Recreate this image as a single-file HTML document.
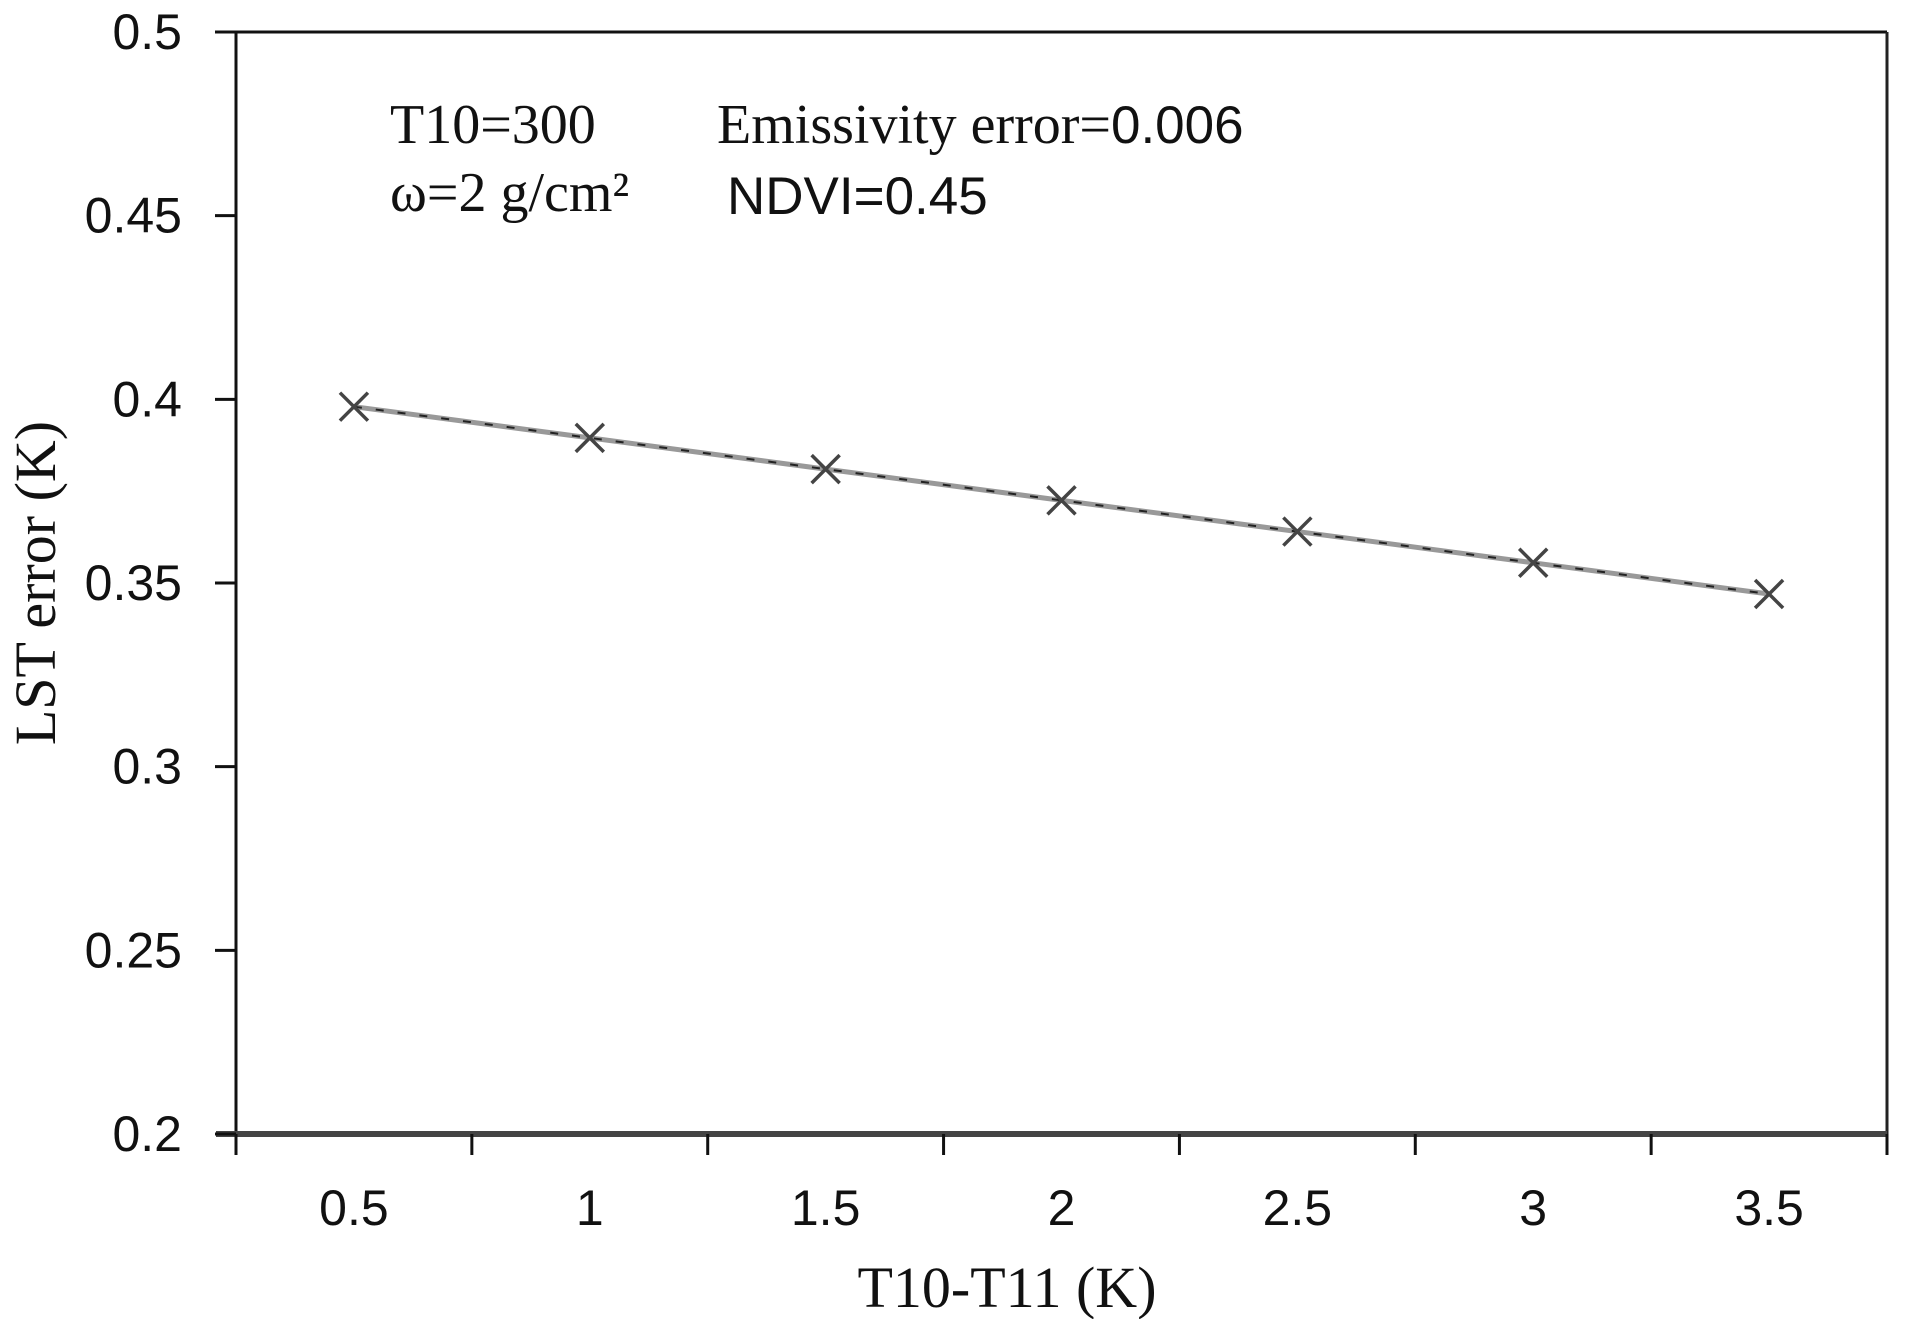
<!DOCTYPE html>
<html><head><meta charset="utf-8"><style>
html,body{margin:0;padding:0;background:#fff;}
svg{display:block;}
.tick{font-family:"Liberation Sans",sans-serif;font-size:50px;fill:#111;}
.serif{font-family:"Liberation Serif",serif;fill:#111;}
</style></head><body>
<svg id="chart" width="1921" height="1319" viewBox="0 0 1921 1319" xmlns="http://www.w3.org/2000/svg">
<rect x="0" y="0" width="1921" height="1319" fill="#fff"/>
<g id="axes"></g>
<g id="series"></g>
<text class="serif" x="390" y="143" font-size="56">T10=300</text>
<text class="serif" x="717" y="143" font-size="56">Emissivity error=<tspan font-family="Liberation Sans, sans-serif" font-size="53">0.006</tspan></text>
<text class="serif" x="390" y="211" font-size="56">ω=2 g/cm²</text>
<text x="727" y="214" font-family="Liberation Sans, sans-serif" font-size="53" fill="#111">NDVI=0.45</text>
<text class="serif" x="1007" y="1307" font-size="58" text-anchor="middle">T10-T11 (K)</text>
<text class="serif" x="0" y="0" font-size="58" text-anchor="middle" transform="translate(55,583) rotate(-90)">LST error (K)</text>
</svg>
<script>
const categories = ["0.5","1","1.5","2","2.5","3","3.5"];
const lstError = [0.398, 0.3895, 0.381, 0.3725, 0.364, 0.3555, 0.347];
const yTicks = [0.2, 0.25, 0.3, 0.35, 0.4, 0.45, 0.5];
const yTickLabels = ["0.2","0.25","0.3","0.35","0.4","0.45","0.5"];

const L=236,R=1887,T=32,B=1134,YMIN=0.2,YMAX=0.5;
const NS="http://www.w3.org/2000/svg";
function yScale(v){return B-(v-YMIN)/(YMAX-YMIN)*(B-T);}
const band=(R-L)/categories.length;
function xScale(i){return L+band*(i+0.5);}
function mk(tag,attrs,parent){const e=document.createElementNS(NS,tag);for(const k in attrs)e.setAttribute(k,attrs[k]);parent.appendChild(e);return e;}
const axes=document.getElementById('axes'), series=document.getElementById('series');

let e=mk('line',{x1:L,y1:T,x2:R,y2:T,stroke:'#111','stroke-width':3},axes);


e=mk('line',{x1:R,y1:T,x2:R,y2:B+20,stroke:'#222','stroke-width':3},axes);


e=mk('line',{x1:L,y1:T,x2:L,y2:B+20,stroke:'#111','stroke-width':3},axes);


e=mk('line',{x1:L-20,y1:B,x2:R,y2:B,stroke:'#444','stroke-width':6},axes);



yTicks.forEach((v,i)=>{
  const y=yScale(v);
  const t=mk('line',{x1:L-21,y1:y,x2:L,y2:y,stroke:'#111','stroke-width':3},axes);
  
  
  const tx=mk('text',{x:182,y:y+17,'text-anchor':'end',class:'tick'},axes);
  tx.textContent=yTickLabels[i];
  
  
});
for(let i=0;i<=categories.length;i++){
  const x=L+band*i;
  const t=mk('line',{x1:x,y1:B,x2:x,y2:B+21,stroke:'#111','stroke-width':3},axes);
  
  
}
categories.forEach((c,i)=>{
  const tx=mk('text',{x:xScale(i),y:1225,'text-anchor':'middle',class:'tick'},axes);
  tx.textContent=c;
  
  
});

const pts=lstError.map((v,i)=>xScale(i)+','+yScale(v)).join(' ');
const pl=mk('polyline',{points:pts,fill:'none',stroke:'#999','stroke-width':5},series);


const pl2=mk('polyline',{points:pts,fill:'none',stroke:'#222','stroke-width':2,'stroke-dasharray':'8 14'},series);


lstError.forEach((v,i)=>{
  const x=xScale(i),y=yScale(v),s=14;
  const g=mk('path',{d:`M${x-s},${y-s}L${x+s},${y+s}M${x-s},${y+s}L${x+s},${y-s}`,stroke:'#444','stroke-width':3.5,fill:'none'},series);
  
  
});
</script>
</body></html>
